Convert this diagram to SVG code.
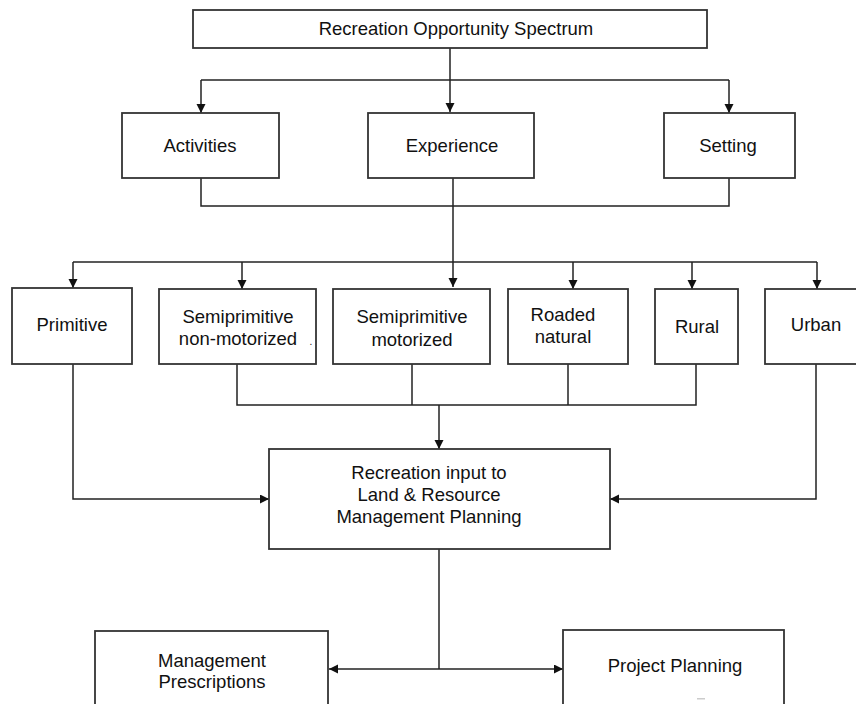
<svg xmlns="http://www.w3.org/2000/svg" width="856" height="704" viewBox="0 0 856 704">
<defs>
<marker id="arr" markerWidth="9" markerHeight="11" refX="9" refY="4.5" orient="auto" markerUnits="userSpaceOnUse">
<path d="M0,0 L9,4.5 L0,9 Z" fill="#111"/>
</marker>
<style>
.box{fill:#fff;stroke:#333;stroke-width:1.8}
.t{font-family:"Liberation Sans",Arial,sans-serif;font-size:18.5px;fill:#111;text-anchor:middle}
.c{fill:none;stroke:#222;stroke-width:1.5}
</style>
</defs>
<rect width="856" height="704" fill="#fff"/>
<g id="connectors">
<path class="c" d="M450,48 V112" marker-end="url(#arr)"/>
<path class="c" d="M201,80 H729"/>
<path class="c" d="M201,80 V113" marker-end="url(#arr)"/>
<path class="c" d="M729,80 V113" marker-end="url(#arr)"/>
<path class="c" d="M201,178 V206 H729 V178"/>
<path class="c" d="M453,178 V287" marker-end="url(#arr)"/>
<path class="c" d="M73,262 H817"/>
<path class="c" d="M73,262 V288" marker-end="url(#arr)"/>
<path class="c" d="M242,262 V289" marker-end="url(#arr)"/>
<path class="c" d="M573,262 V289" marker-end="url(#arr)"/>
<path class="c" d="M692,262 V289" marker-end="url(#arr)"/>
<path class="c" d="M817,262 V289" marker-end="url(#arr)"/>
<path class="c" d="M237,364 V405 H696 V364"/>
<path class="c" d="M412,364 V405"/>
<path class="c" d="M568,364 V405"/>
<path class="c" d="M439,405 V449" marker-end="url(#arr)"/>
<path class="c" d="M73,364 V499 H269" marker-end="url(#arr)"/>
<path class="c" d="M816,364 V499 H610" marker-end="url(#arr)"/>
<path class="c" d="M439,549 V669"/>
<path class="c" d="M439,669 H329" marker-end="url(#arr)"/>
<path class="c" d="M439,669 H563" marker-end="url(#arr)"/>
</g>
<g id="ros"><rect class="box" x="193" y="10" width="514" height="38"/><text class="t" x="456" y="35">Recreation Opportunity Spectrum</text></g>
<g id="activities"><rect class="box" x="122" y="113" width="157" height="65"/><text class="t" x="200" y="152">Activities</text></g>
<g id="experience"><rect class="box" x="368" y="113" width="166" height="65"/><text class="t" x="452" y="152">Experience</text></g>
<g id="setting"><rect class="box" x="664" y="113" width="131" height="65"/><text class="t" x="728" y="152">Setting</text></g>
<g id="primitive"><rect class="box" x="12" y="288" width="120" height="76"/><text class="t" x="72" y="331">Primitive</text></g>
<g id="spnm"><rect class="box" x="159" y="289" width="157" height="75"/><text class="t" x="238" y="323">Semiprimitive</text><text class="t" x="238" y="345">non-motorized</text><text class="t" x="311" y="345" style="font-size:10px">.</text></g>
<g id="spm"><rect class="box" x="333" y="289" width="157" height="75"/><text class="t" x="412" y="323">Semiprimitive</text><text class="t" x="412" y="346">motorized</text></g>
<g id="roaded"><rect class="box" x="508" y="289" width="120" height="75"/><text class="t" x="563" y="321">Roaded</text><text class="t" x="563" y="343">natural</text></g>
<g id="rural"><rect class="box" x="655" y="289" width="83" height="75"/><text class="t" x="697" y="333">Rural</text></g>
<g id="urban"><rect class="box" x="765" y="289" width="94" height="75"/><text class="t" x="816" y="331">Urban</text></g>
<g id="rilrmp"><rect class="box" x="269" y="449" width="341" height="100"/><text class="t" x="429" y="479">Recreation input to</text><text class="t" x="429" y="501">Land &amp; Resource</text><text class="t" x="429" y="523">Management Planning</text></g>
<g id="mgmt"><rect class="box" x="95" y="631" width="233" height="80"/><text class="t" x="212" y="667">Management</text><text class="t" x="212" y="688">Prescriptions</text></g>
<g id="project"><rect class="box" x="563" y="630" width="221" height="80"/><text class="t" x="675" y="672">Project Planning</text><rect x="697" y="698" width="8" height="1.5" fill="#ccc"/></g>
</svg>
